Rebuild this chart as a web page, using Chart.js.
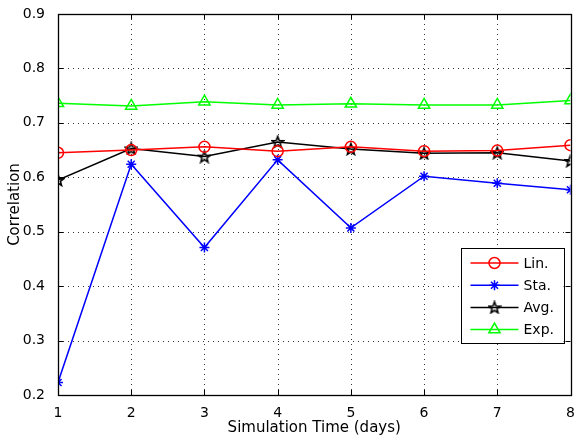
<!DOCTYPE html>
<html>
<head>
<meta charset="utf-8">
<script src="https://cdn.jsdelivr.net/npm/chart.js@4.4.1/dist/chart.umd.min.js"></script>
<style>
  html, body { margin: 0; padding: 0; background: #fff; }
  #wrap { width: 579px; height: 441px; }
</style>
</head>
<body>
<div id="wrap"><canvas id="myChart" width="579" height="441"></canvas></div>
<script>
// data
const days = [1, 2, 3, 4, 5, 6, 7, 8];
const linValues = [0.645, 0.650, 0.656, 0.648, 0.656, 0.648, 0.649, 0.659];
const staValues = [0.223, 0.624, 0.471, 0.632, 0.507, 0.602, 0.589, 0.577];
const avgValues = [0.595, 0.653, 0.638, 0.665, 0.652, 0.644, 0.645, 0.630];
const expValues = [0.736, 0.731, 0.739, 0.733, 0.735, 0.733, 0.733, 0.741];
const yTicks = [0.2, 0.3, 0.4, 0.5, 0.6, 0.7, 0.8, 0.9];

const FONT = '"DejaVu Sans", Arial, sans-serif';

// hollow pentagram marker (Chart.js has no built-in one)
function makePentagram(size) {
  const c = document.createElement('canvas');
  c.width = size; c.height = size;
  const g = c.getContext('2d');
  const cx = size / 2, cy = size / 2 + 0.5;
  const R = size / 2 - 1, r = R * 0.42;
  g.beginPath();
  for (let i = 0; i < 10; i++) {
    const a = -Math.PI / 2 + i * Math.PI / 5;
    const rad = i % 2 === 0 ? R : r;
    const px = cx + rad * Math.cos(a), py = cy + rad * Math.sin(a);
    if (i === 0) g.moveTo(px, py); else g.lineTo(px, py);
  }
  g.closePath();
  g.lineWidth = 1.6;
  g.strokeStyle = '#000';
  g.stroke();
  return c;
}
const pentagram = makePentagram(14);

function series(label, data, color, style, radius) {
  return {
    label: label,
    data: data.map((v, i) => ({ x: days[i], y: v })),
    borderColor: color,
    backgroundColor: color,
    borderWidth: 1.5,
    pointStyle: style,
    pointRadius: radius,
    pointHoverRadius: radius,
    pointBorderColor: color,
    pointBorderWidth: 1.5,
    pointBackgroundColor: 'rgba(0,0,0,0)',
    tension: 0,
    fill: false
  };
}

const datasets = [
  series('Lin.', linValues, '#ff0000', 'circle', 5.5),
  series('Sta.', staValues, '#0000ff', 'star', 5),
  series('Avg.', avgValues, '#000000', pentagram, 7),
  series('Exp.', expValues, '#00ff00', 'triangle', 6.5)
];

// dotted grid, drawn under the lines
const gridPlugin = {
  id: 'dotGrid',
  beforeDatasetsDraw(chart) {
    const { ctx, chartArea: a, scales } = chart;
    ctx.save();
    ctx.strokeStyle = '#333';
    ctx.lineWidth = 1;
    ctx.setLineDash([1, 4]);
    ctx.beginPath();
    days.slice(1, -1).forEach(d => {
      const x = Math.round(scales.x.getPixelForValue(d)) + 0.5;
      ctx.moveTo(x, a.bottom); ctx.lineTo(x, a.top);
    });
    yTicks.slice(1, -1).forEach(v => {
      const y = Math.round(scales.y.getPixelForValue(v)) + 0.5;
      ctx.moveTo(a.left, y); ctx.lineTo(a.right, y);
    });
    ctx.stroke();
    ctx.restore();
  }
};

// box + inward ticks like the original plot
const framePlugin = {
  id: 'frame',
  afterDraw(chart) {
    const { ctx, chartArea: a, scales } = chart;
    ctx.save();
    ctx.strokeStyle = '#000';
    ctx.lineWidth = 1;
    const t = 5;
    ctx.beginPath();
    days.forEach(d => {
      const x = Math.round(scales.x.getPixelForValue(d)) + 0.5;
      ctx.moveTo(x, a.bottom); ctx.lineTo(x, a.bottom - t);
      ctx.moveTo(x, a.top); ctx.lineTo(x, a.top + t);
    });
    yTicks.forEach(v => {
      const y = Math.round(scales.y.getPixelForValue(v)) + 0.5;
      ctx.moveTo(a.left, y); ctx.lineTo(a.left + t, y);
      ctx.moveTo(a.right, y); ctx.lineTo(a.right - t, y);
    });
    ctx.stroke();
    ctx.lineWidth = 1.3;
    ctx.strokeRect(Math.round(a.left) + 0.5, Math.round(a.top) + 0.5,
      Math.round(a.right - a.left), Math.round(a.bottom - a.top));
    ctx.restore();
  }
};

// legend box in lower right, inside the axes
const legendPlugin = {
  id: 'insideLegend',
  afterDraw(chart) {
    const { ctx, chartArea: a } = chart;
    const bx = a.right - 110, by = a.bottom - 147, bw = 103, bh = 95;
    ctx.save();
    ctx.fillStyle = '#fff';
    ctx.fillRect(bx, by, bw, bh);
    ctx.strokeStyle = '#000';
    ctx.lineWidth = 1;
    ctx.strokeRect(Math.round(bx) + 0.5, Math.round(by) + 0.5, bw, bh);
    ctx.textBaseline = 'middle';
    chart.data.datasets.forEach((ds, i) => {
      const y = by + 15 + i * 22.2;
      ctx.strokeStyle = ds.borderColor;
      ctx.lineWidth = 1.5;
      ctx.beginPath();
      ctx.moveTo(bx + 10, y); ctx.lineTo(bx + 58, y);
      ctx.stroke();
      ctx.fillStyle = 'rgba(0,0,0,0)';
      Chart.helpers.drawPoint(ctx, {
        pointStyle: ds.pointStyle,
        radius: ds.pointRadius,
        rotation: 0,
        borderWidth: 1.5
      }, bx + 34, y);
      ctx.font = '14px ' + FONT;
      ctx.fillStyle = '#000';
      ctx.fillText(ds.label, bx + 63, y + 1);
    });
    ctx.restore();
  }
};

const ctx = document.getElementById('myChart').getContext('2d');
new Chart(ctx, {
  type: 'line',
  data: { datasets: datasets },
  options: {
    responsive: false,
    animation: false,
    layout: { padding: { top: 14, right: 6, left: 0, bottom: 0 } },
    plugins: {
      legend: { display: false },
      tooltip: { enabled: false }
    },
    scales: {
      x: {
        type: 'linear',
        min: 1,
        max: 8,
        afterFit: s => { s.height = 46; s.paddingRight = 0; s.paddingLeft = 0; },
        afterBuildTicks: s => { s.ticks = days.map(v => ({ value: v })); },
        grid: { display: false },
        border: { display: false },
        ticks: { color: '#000', font: { family: FONT, size: 14 }, padding: 2, maxRotation: 0 },
        title: {
          display: true,
          text: 'Simulation Time (days)',
          color: '#000',
          font: { family: FONT, size: 15 },
          padding: { top: 0, bottom: 4 }
        }
      },
      y: {
        min: 0.2,
        max: 0.9,
        afterFit: s => { s.width = 58; s.paddingTop = 0; s.paddingBottom = 0; },
        afterBuildTicks: s => { s.ticks = yTicks.map(v => ({ value: v })); },
        grid: { display: false },
        border: { display: false },
        ticks: {
          color: '#000',
          font: { family: FONT, size: 14 },
          padding: 5,
          callback: v => v.toFixed(1)
        },
        title: {
          display: true,
          text: 'Correlation',
          color: '#000',
          font: { family: FONT, size: 15 },
          padding: { top: 6, bottom: 0 }
        }
      }
    }
  },
  plugins: [gridPlugin, framePlugin, legendPlugin]
});
</script>
</body>
</html>
